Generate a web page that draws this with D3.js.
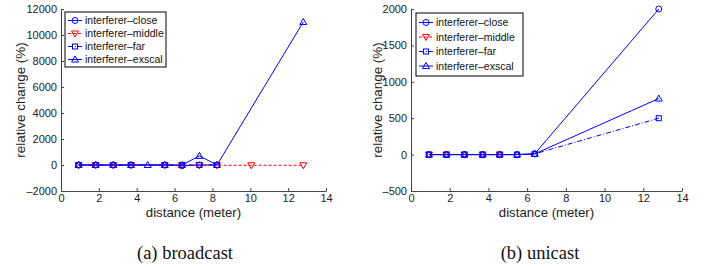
<!DOCTYPE html>
<html>
<head>
<meta charset="utf-8">
<script src="https://cdn.jsdelivr.net/npm/d3@7"></script>
<style>
  body { margin: 0; background: #fff; }
  text { font-family: "Liberation Sans", Arial, sans-serif; }
  .caption { font-family: "Liberation Serif", "Times New Roman", serif; }
</style>
</head>
<body>
<div id="chart"></div>
<script>
// series names shared by both panels
const seriesNames = ["interferer\u2013close", "interferer\u2013middle", "interferer\u2013far", "interferer\u2013exscal"];

// (a) broadcast
const closeAx = [0.93, 1.83, 2.76, 3.7, 5.48, 6.39, 7.31, 8.24];
const closeAy = [0, 0, 0, 0, 0, -60, 0, 0];
const middleAx = [0.93, 1.83, 2.76, 3.7, 5.48, 6.39, 7.31, 8.24, 10.05, 12.8];
const middleAy = [-20, -20, -20, -20, -20, -20, -20, -20, -20, -20];
const farAx = [0.93, 1.83, 2.76, 3.7, 5.48, 6.39, 7.31, 8.24];
const farAy = [0, 0, 0, 0, 0, 0, 0, 0];
const exscalAx = [0.93, 1.83, 2.76, 3.7, 4.58, 5.48, 6.39, 7.31, 8.24, 12.8];
const exscalAy = [0, 0, 0, 0, 0, 0, 0, 700, 0, 11000];
const yTicksA = [-2000, 0, 2000, 4000, 6000, 8000, 10000, 12000];

// (b) unicast
const closeBx = [0.93, 1.83, 2.76, 3.7, 4.58, 5.48, 6.39, 12.8];
const closeBy = [0, 0, 0, 0, 0, 0, 10, 2000];
const middleBx = [0.93, 1.83, 2.76, 3.7, 4.58];
const middleBy = [0, 0, 0, 0, 0];
const farBx = [0.93, 1.83, 2.76, 3.7, 4.58, 5.48, 6.39, 12.8];
const farBy = [0, 0, 0, 0, 0, 0, 10, 500];
const exscalBx = [0.93, 1.83, 2.76, 3.7, 4.58, 5.48, 6.39, 12.8];
const exscalBy = [0, 0, 0, 0, 0, 0, 10, 770];
const yTicksB = [-500, 0, 500, 1000, 1500, 2000];

const xTicks = [0, 2, 4, 6, 8, 10, 12, 14];

const styles = [
    { color: "#0000ff", dash: null, marker: "circle" },
    { color: "#ff0000", dash: "3,2", marker: "down" },
    { color: "#0000ff", dash: "5,2,1,2", marker: "square" },
    { color: "#0000ff", dash: null, marker: "up" }
];

const svg = d3.select("#chart")
    .append("svg")
    .attr("width", 714)
    .attr("height", 267);

function drawMarker(g, type, x, y, color) {
    if (type === "circle") {
        g.append("circle").attr("cx", x).attr("cy", y).attr("r", 3)
            .attr("fill", "none").attr("stroke", color);
    } else if (type === "square") {
        g.append("rect").attr("x", x - 2.5).attr("y", y - 2.5)
            .attr("width", 5).attr("height", 5)
            .attr("fill", "none").attr("stroke", color);
    } else {
        const s = type === "up" ? -1 : 1;
        g.append("path")
            .attr("d", `M${x},${y + s * 3.5}L${x - 3.5},${y - s * 2.5}L${x + 3.5},${y - s * 2.5}Z`)
            .attr("fill", "none").attr("stroke", color);
    }
}

function drawPanel(opts) {
    const x = d3.scaleLinear().domain([0, 14]).range([opts.left, opts.right]);
    const y = d3.scaleLinear().domain(opts.yDomain).range([191, 9]);
    const g = svg.append("g");

    // axes, ticks pointing inward like matlab
    const xAxis = g.append("g").attr("transform", `translate(0,${y.range()[0]})`)
        .call(d3.axisBottom(x).tickValues(xTicks).tickSizeInner(-3).tickSizeOuter(0).tickPadding(3));
    const yAxis = g.append("g").attr("transform", `translate(${opts.left},0)`)
        .call(d3.axisLeft(y).tickValues(opts.yTicks).tickSizeInner(-3).tickSizeOuter(0).tickPadding(4)
            .tickFormat(d => d < 0 ? "\u2013" + Math.abs(d) : d));
    [xAxis, yAxis].forEach(a => {
        a.selectAll("path").attr("stroke", "#444");
        a.selectAll("line").attr("stroke", "#444");
        a.selectAll("text").attr("font-size", 11).attr("fill", "#222")
            .attr("font-family", "Liberation Sans, Arial, sans-serif");
    });

    g.append("text")
        .attr("x", (opts.left + opts.right) / 2).attr("y", 216.5)
        .attr("text-anchor", "middle").attr("font-size", 13.2).attr("fill", "#222")
        .text("distance (meter)");
    g.append("text")
        .attr("transform", `translate(${opts.labelX},100) rotate(-90)`)
        .attr("text-anchor", "middle").attr("font-size", 13.4).attr("fill", "#222")
        .text("relative change (%)");

    const line = d3.line().x(d => x(d[0])).y(d => y(d[1]));
    opts.series.forEach((s, i) => {
        const st = styles[i];
        const pts = d3.zip(s.xs, s.ys);
        g.append("path").datum(pts)
            .attr("d", line)
            .attr("fill", "none")
            .attr("stroke", st.color)
            .attr("stroke-width", 1)
            .attr("stroke-dasharray", st.dash);
        pts.forEach(p => drawMarker(g, st.marker, x(p[0]), y(p[1]), st.color));
    });

    // legend
    const lg = opts.legend;
    g.append("rect").attr("x", lg.x).attr("y", lg.y).attr("width", lg.w).attr("height", lg.h)
        .attr("fill", "#fff").attr("stroke", "#000").attr("stroke-width", 1);
    seriesNames.forEach((name, i) => {
        const st = styles[i];
        const cy = lg.y + lg.row0 + i * lg.step;
        g.append("line").attr("x1", lg.x + 3).attr("x2", lg.x + 17)
            .attr("y1", cy).attr("y2", cy)
            .attr("stroke", st.color).attr("stroke-dasharray", st.dash);
        drawMarker(g, st.marker, lg.x + 10, cy, st.color);
        g.append("text").attr("x", lg.x + 20).attr("y", cy + 3.5)
            .attr("font-size", 10.5).attr("fill", "#111").text(name);
    });

    svg.append("text").attr("class", "caption")
        .attr("x", opts.captionX).attr("y", 259)
        .attr("text-anchor", "middle").attr("font-size", 18.5).attr("fill", "#111")
        .text(opts.caption);
}

drawPanel({
    left: 61, right: 326, yDomain: [-2000, 12000], yTicks: yTicksA, labelX: 25,
    series: [
        { xs: closeAx, ys: closeAy },
        { xs: middleAx, ys: middleAy },
        { xs: farAx, ys: farAy },
        { xs: exscalAx, ys: exscalAy }
    ],
    legend: { x: 65, y: 12, w: 101, h: 55, row0: 8.5, step: 13 },
    caption: "(a) broadcast", captionX: 185
});

drawPanel({
    left: 411, right: 682, yDomain: [-500, 2000], yTicks: yTicksB, labelX: 382,
    series: [
        { xs: closeBx, ys: closeBy },
        { xs: middleBx, ys: middleBy },
        { xs: farBx, ys: farBy },
        { xs: exscalBx, ys: exscalBy }
    ],
    legend: { x: 416, y: 13, w: 107, h: 63, row0: 9.5, step: 14.5 },
    caption: "(b) unicast", captionX: 540
});
</script>
</body>
</html>
